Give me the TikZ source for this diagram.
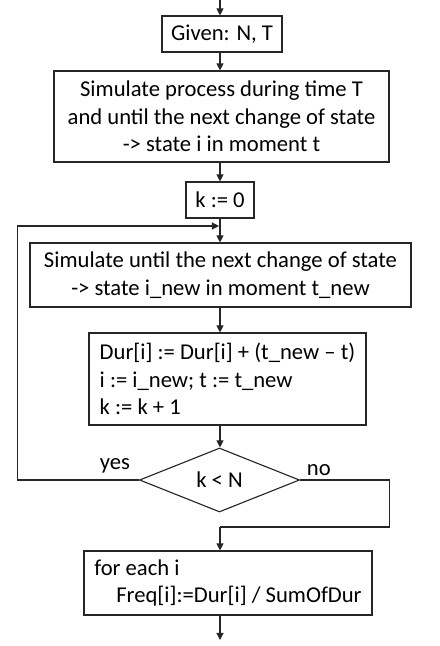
\documentclass[tikz,border=0pt]{standalone}
\usepackage{fontspec}
\setmainfont{Carlito}
\usetikzlibrary{shapes,arrows,positioning,calc,arrows.meta}

\begin{document}
\begin{tikzpicture}[
    x=0.025cm, y=-0.025cm,
    box/.style={rectangle, draw=black!85, line width=0.8pt, inner sep=0pt, font=\fontsize{16.1}{19.6}\selectfont, align=center},
    cond/.style={diamond, draw=black!85, line width=0.8pt, inner sep=0pt, minimum width=4cm, minimum height=1.6cm, font=\fontsize{16.1}{19.6}\selectfont},
    arr/.style={-{Triangle[length=5pt,width=5pt]}, line width=0.8pt, black!85},
    line/.style={line width=0.8pt, black!85},
    label/.style={font=\fontsize{16.1}{19.6}\selectfont}
]
\useasboundingbox (0,0) rectangle (440,646);

% Start
\coordinate (start) at (220,0);

% Given
\node[box, minimum width=3cm, minimum height=0.9cm] (given) at (222,34) {Given: N, T};

% First simulation
\node[box, minimum width=8.375cm, minimum height=2.275cm] (sim1) at (221.5,116.5) {Simulate process during time T\\and until the next change of state\\-> state i in moment t};

% Counter
\node[box, minimum width=1.7cm, minimum height=0.9cm] (kzero) at (220,200) {k := 0};

% Loop body
\node[box, minimum width=9.525cm, minimum height=1.6cm] (sim2) at (220.5,275) {Simulate until the next change of state\\-> state i\_new in moment t\_new};

\node[box, minimum width=6.925cm, minimum height=2.3cm, align=left] (dur) at (227.5,379) {Dur[i] := Dur[i] + (t\_new -- t)\\i := i\_new; t := t\_new\\k := k + 1};

% Condition
\node[cond] (check) at (219.5,480) {k < N};

% Result
\node[box, minimum width=7.2cm, minimum height=1.6cm, align=left] (freq) at (228,583) {for each i\\\hspace*{0.55cm}Freq[i]:=Dur[i] / SumOfDur};

\coordinate (join) at (220,226);
\coordinate (merge) at (220,527);
\coordinate (stop) at (220,640);

% Connectors
\draw[arr] (start) -- (start |- given.north);
\draw[arr] (start |- given.south) -- (start |- sim1.north);
\draw[arr] (start |- sim1.south) -- (start |- kzero.north);
\draw[line] (start |- kzero.south) -- (join);
\draw[arr] (join) -- (start |- sim2.north);
\draw[arr] (start |- sim2.south) -- (start |- dur.north);
\draw[arr] (start |- dur.south) -- (start |- check.north);

% Yes branch
\draw[arr] (check.west) -- ++(-121,0) |- ($(join)+(-1,0)$);
\node[label, anchor=south] (yes) at (115,478) {yes};

% No branch
\draw[line] (check.east) -- ++(89,0) |- (merge);
\draw[arr] (merge) -- (start |- freq.north);
\node[label, anchor=south west] (no) at (302,481) {no};

% End
\draw[arr] (start |- freq.south) -- (stop);

\end{tikzpicture}
\end{document}
